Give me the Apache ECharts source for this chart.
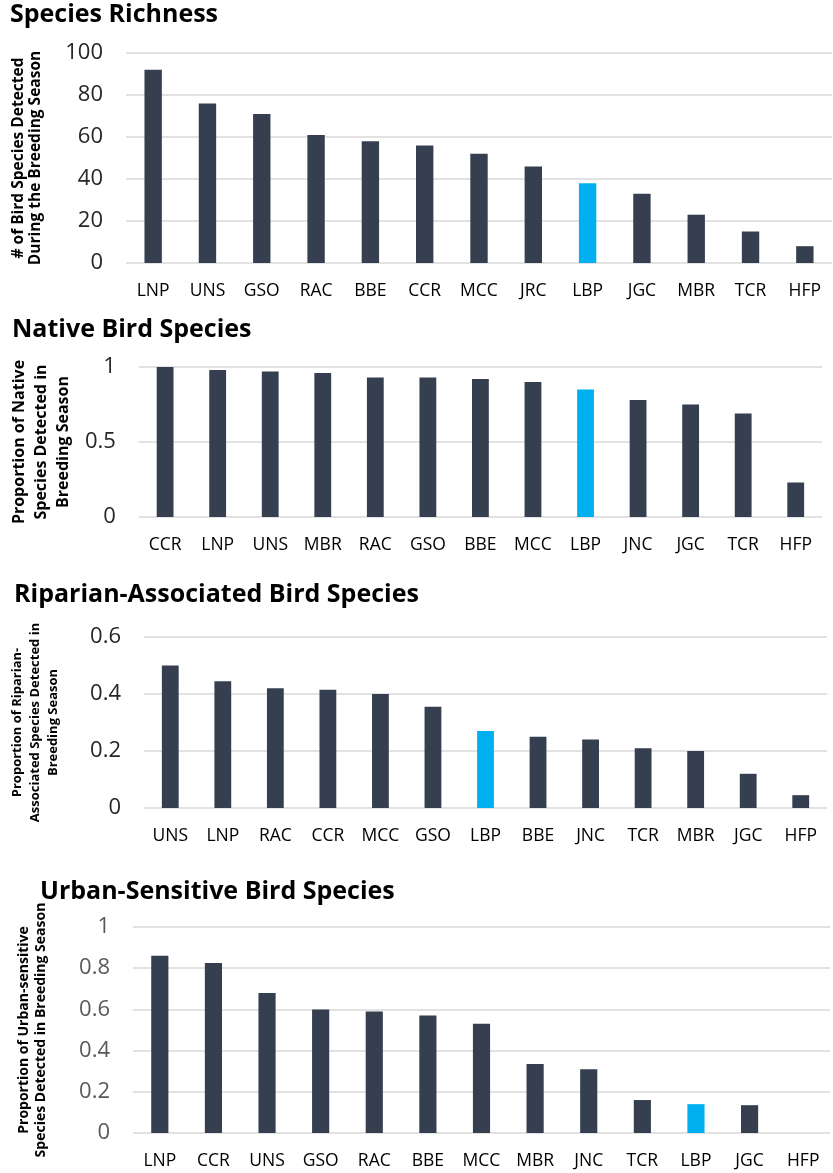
<!DOCTYPE html>
<html>
<head>
<meta charset="utf-8">
<script src="https://cdn.jsdelivr.net/npm/echarts@6/dist/echarts.min.js"></script>
<style>
  html, body { margin: 0; padding: 0; background: #fff; }
  #main { width: 833px; height: 1173px; }
</style>
</head>
<body>
<div id="main"></div>
<script>
// site codes per panel, ordered as in the figure
const richnessSites = ['LNP', 'UNS', 'GSO', 'RAC', 'BBE', 'CCR', 'MCC', 'JRC', 'LBP', 'JGC', 'MBR', 'TCR', 'HFP'];
const richnessValues = [92, 76, 71, 61, 58, 56, 52, 46, 38, 33, 23, 15, 8];

const nativeSites = ['CCR', 'LNP', 'UNS', 'MBR', 'RAC', 'GSO', 'BBE', 'MCC', 'LBP', 'JNC', 'JGC', 'TCR', 'HFP'];
const nativeValues = [1.0, 0.98, 0.97, 0.96, 0.93, 0.93, 0.92, 0.90, 0.85, 0.78, 0.75, 0.69, 0.23];

const riparianSites = ['UNS', 'LNP', 'RAC', 'CCR', 'MCC', 'GSO', 'LBP', 'BBE', 'JNC', 'TCR', 'MBR', 'JGC', 'HFP'];
const riparianValues = [0.50, 0.445, 0.42, 0.415, 0.40, 0.355, 0.27, 0.25, 0.24, 0.21, 0.20, 0.12, 0.045];

const urbanSites = ['LNP', 'CCR', 'UNS', 'GSO', 'RAC', 'BBE', 'MCC', 'MBR', 'JNC', 'TCR', 'LBP', 'JGC', 'HFP'];
const urbanValues = [0.86, 0.825, 0.68, 0.60, 0.59, 0.57, 0.53, 0.335, 0.31, 0.16, 0.14, 0.135, 0];

const highlightSite = 'LBP';

const panels = [
    {
        title: 'Species Richness', titleLeft: 10, titleTop: 2,
        sites: richnessSites, values: richnessValues,
        grid: { left: 126, top: 53, width: 706, height: 210 },
        max: 100, interval: 20, tickColor: '#262626',
        name: '# of Bird Species Detected\nDuring the Breeding Season',
        nameSize: 15.5, nameLine: 17, nameGap: 82
    },
    {
        title: 'Native Bird Species', titleLeft: 12, titleTop: 317,
        sites: nativeSites, values: nativeValues,
        grid: { left: 137, top: 367, width: 685, height: 150 },
        max: 1, interval: 0.5, tickColor: '#262626',
        name: 'Proportion of Native\nSpecies Detected in\nBreeding Season',
        nameSize: 16, nameLine: 22, nameGap: 59
    },
    {
        title: 'Riparian-Associated Bird Species', titleLeft: 14, titleTop: 582,
        sites: riparianSites, values: riparianValues,
        grid: { left: 141, top: 637, width: 686, height: 171 },
        max: 0.6, interval: 0.2, tickColor: '#262626',
        name: 'Proportion of Riparian-\nAssociated Species Detected in\nBreeding Season',
        nameSize: 13, nameLine: 18, nameGap: 82
    },
    {
        title: 'Urban-Sensitive Bird Species', titleLeft: 40, titleTop: 879,
        sites: urbanSites, values: urbanValues,
        grid: { left: 133, top: 927, width: 697, height: 206 },
        max: 1, interval: 0.2, tickColor: '#595959',
        name: 'Proportion of Urban-sensitive\nSpecies Detected in Breeding Season',
        nameSize: 14, nameLine: 17, nameGap: 83
    }
];

const font = 'Open Sans';

let myChart = echarts.init(document.getElementById('main'));

let option = {
    backgroundColor: '#fff',
    animation: false,
    title: panels.map(p => ({
        text: p.title,
        left: p.titleLeft,
        top: p.titleTop,
        padding: 0,
        textStyle: { fontFamily: font, fontWeight: 'bold', fontSize: 25, color: '#000' }
    })),
    grid: panels.map(p => p.grid),
    xAxis: panels.map((p, i) => ({
        type: 'category',
        gridIndex: i,
        data: p.sites,
        axisLine: { show: false },
        axisTick: { show: false },
        axisLabel: { margin: 19, fontFamily: font, fontSize: 17.5, color: '#000' }
    })),
    yAxis: panels.map((p, i) => ({
        type: 'value',
        gridIndex: i,
        min: 0,
        max: p.max,
        interval: p.interval,
        axisLine: { show: false },
        axisTick: { show: false },
        axisLabel: { margin: 23, fontFamily: font, fontSize: 22, color: p.tickColor },
        splitLine: { lineStyle: { color: '#D9D9D9', width: 1.5 } },
        name: p.name,
        nameLocation: 'middle',
        nameRotate: 90,
        nameGap: p.nameGap,
        nameTextStyle: {
            fontFamily: font, fontWeight: 'bold', fontSize: p.nameSize,
            lineHeight: p.nameLine, color: '#000'
        }
    })),
    series: panels.map((p, i) => ({
        type: 'bar',
        xAxisIndex: i,
        yAxisIndex: i,
        barWidth: '32%',
        data: p.values,
        itemStyle: {
            color: function (params) {
                return params.name === highlightSite ? '#00B0F0' : '#353F4F';
            }
        }
    }))
};

myChart.setOption(option);
</script>
</body>
</html>
